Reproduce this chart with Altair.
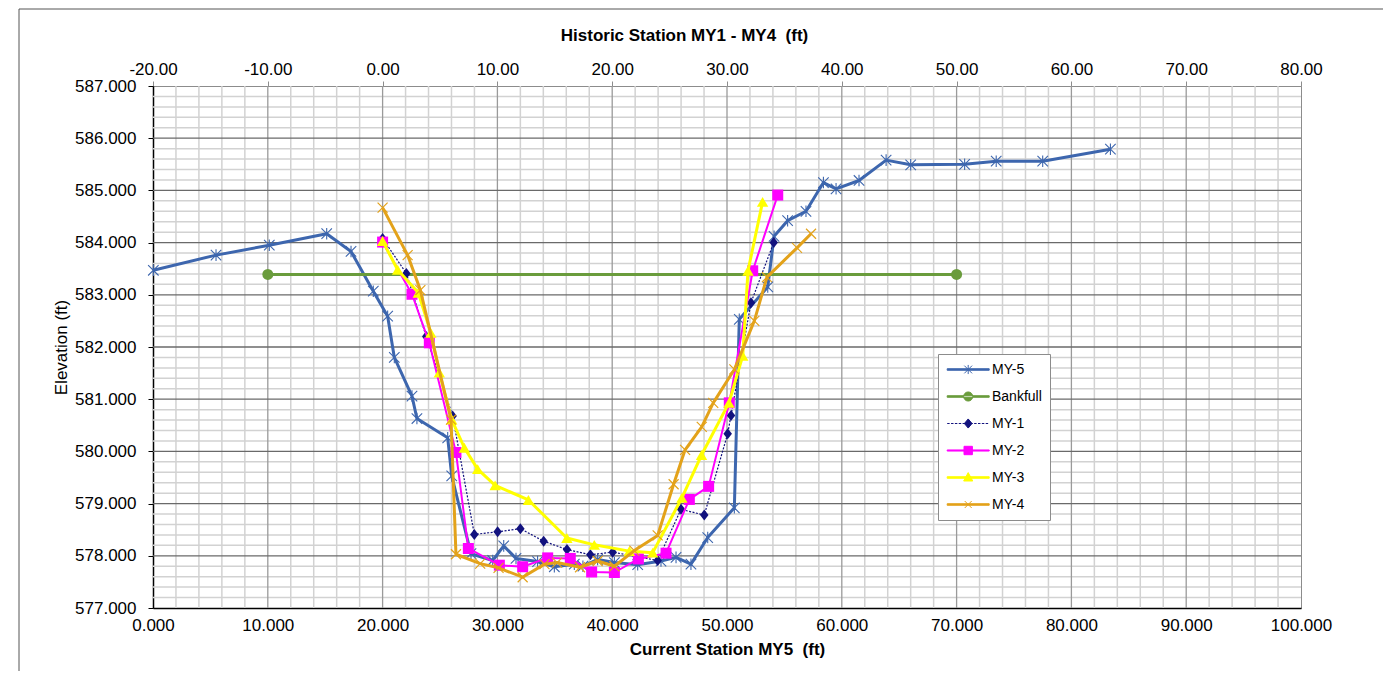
import altair as alt
import pandas as pd

# ---------------- data ----------------
# Current station MY5 (bottom axis)
MY5_X = [0.03, 5.49, 10.13, 15.13, 17.25, 19.19, 20.44, 21.02, 22.56, 22.99,
         25.67, 26.02, 27.7, 29.59, 30.55, 31.62, 33.5, 34.96, 36.7, 37.45,
         38.73, 40.19, 42.22, 44.25, 45.56, 46.86, 48.32, 50.64, 51.07, 53.55,
         54.1, 55.28, 56.88, 58.4, 59.5, 61.5, 63.86, 66.0, 70.7, 73.45,
         77.5, 83.4]
MY5_Y = [583.47, 583.76, 583.95, 584.17, 583.83, 583.07, 582.59, 581.80, 581.06, 580.63,
         580.26, 579.53, 578.04, 577.91, 578.19, 577.95, 577.89, 577.79, 577.84, 577.80,
         577.93, 577.87, 577.83, 577.90, 577.97, 577.84, 578.35, 578.92, 582.53, 583.15,
         584.12, 584.42, 584.60, 585.15, 585.03, 585.19, 585.58, 585.49, 585.50, 585.56,
         585.56, 585.79]

BANK_X = [10.0, 70.0]
BANK_Y = [583.39, 583.39]

# Historic station MY1 - MY4 (top axis)
MY1_X = [0.0, 2.07, 3.8, 6.1, 7.99, 10.02, 12.0, 14.03, 16.06, 18.1,
         20.04, 23.96, 25.99, 28.02, 30.06, 30.35, 32.09, 34.07]
MY1_Y = [584.08, 583.41, 582.2, 580.68, 578.41, 578.46, 578.52, 578.28, 578.12, 578.02,
         578.07, 577.91, 578.89, 578.78, 580.34, 580.69, 582.85, 584.0]

MY2_X = [0.0, 2.56, 4.07, 6.39, 7.47, 10.17, 12.2, 14.38, 16.35, 18.21,
         20.19, 22.28, 24.69, 26.72, 28.4, 30.2, 32.24, 34.42]
MY2_Y = [584.01, 583.01, 582.08, 579.98, 578.14, 577.82, 577.79, 577.96, 577.95, 577.69,
         577.68, 577.94, 578.05, 579.08, 579.33, 580.93, 583.46, 584.91]

MY3_X = [0.0, 1.31, 3.11, 4.2, 4.94, 6.02, 7.12, 8.28, 9.8, 12.7,
         16.05, 18.44, 21.49, 23.53, 26.07, 27.78, 30.17, 31.37, 31.83, 33.1]
MY3_Y = [584.03, 583.48, 583.04, 582.27, 581.51, 580.61, 580.07, 579.66, 579.35, 579.07,
         578.34, 578.21, 578.09, 578.06, 579.11, 579.93, 580.93, 581.83, 583.46, 584.78]

MY4_X = [0.0, 2.18, 3.29, 5.96, 6.39, 8.5, 10.1, 12.2, 14.1, 15.2,
         17.2, 18.73, 20.19, 21.93, 23.96, 25.35, 26.35, 27.8, 28.8, 30.64,
         32.38, 33.48, 36.1, 37.32]
MY4_Y = [584.67, 583.76, 583.09, 580.61, 578.03, 577.85, 577.77, 577.59, 577.84, 577.87,
         577.78, 577.9, 577.8, 578.1, 578.39, 579.37, 580.03, 580.47, 580.93, 581.57,
         582.5, 583.34, 583.9, 584.17]

SERIES = ["MY-5", "Bankfull", "MY-1", "MY-2", "MY-3", "MY-4"]
COLORS = ["#3D66AE", "#6A9C3C", "#12127E", "#FF00FF", "#FFFF00", "#E3A21A"]

X_BOTTOM_TICKS = [0, 10, 20, 30, 40, 50, 60, 70, 80, 90, 100]
X_TOP_TICKS = [-20, -10, 0, 10, 20, 30, 40, 50, 60, 70, 80]
Y_TICKS = [577, 578, 579, 580, 581, 582, 583, 584, 585, 586, 587]
X_MAJOR = [10, 20, 30, 40, 50, 60, 70, 80, 90]
X_MINOR = [v for v in range(2, 100, 2) if v % 10]
Y_MAJOR = [578, 579, 580, 581, 582, 583, 584, 585, 586]
Y_MINOR = [round(577 + k * 0.2, 1) for k in range(1, 50) if k % 5]

FONT = "Liberation Sans"

# ---------------- scales / axes ----------------
Y = alt.Y("y:Q", scale=alt.Scale(domain=[577, 587], nice=False, zero=False),
          axis=alt.Axis(values=Y_TICKS, format=".3f", title="Elevation (ft)", grid=False,
                        domainColor="#000000", domainWidth=1.5, tickColor="#000000",
                        tickSize=5, tickWidth=1, labelFont=FONT, labelFontSize=17,
                        labelColor="#000000", labelPadding=12, titleFont=FONT,
                        titleFontSize=17, titleFontWeight="normal", titleColor="#000000",
                        titlePadding=4))

XB = alt.X("x:Q", scale=alt.Scale(domain=[0, 100], nice=False, zero=False),
           axis=alt.Axis(orient="bottom", values=X_BOTTOM_TICKS, format=".3f",
                         title="Current Station MY5 \u00a0(ft)", grid=False,
                         domainColor="#000000", domainWidth=1.5, ticks=False,
                         labelFlush=False, labelFont=FONT, labelFontSize=17,
                         labelColor="#000000", labelPadding=9, titleFont=FONT,
                         titleFontSize=17, titleFontWeight="bold", titleColor="#000000",
                         titlePadding=8))

XT = alt.X("x:Q", scale=alt.Scale(domain=[-20, 80], nice=False, zero=False),
           axis=alt.Axis(orient="top", values=X_TOP_TICKS, format=".2f",
                         labelExpr="replace(format(datum.value, '.2f'), '\u2212', '-')",
                         title="Historic Station MY1 - MY4 \u00a0(ft)", grid=False,
                         domainColor="#8c8c8c", tickColor="#8c8c8c", tickSize=5,
                         labelFlush=False, labelFont=FONT, labelFontSize=17,
                         labelColor="#000000", labelPadding=3, titleFont=FONT,
                         titleFontSize=17, titleFontWeight="bold", titleColor="#000000",
                         titlePadding=16, titleX=531, titleAlign="center"))


def frame(xs, ys):
    return pd.DataFrame({"x": xs, "y": ys, "i": list(range(len(xs)))})


def series(xs, ys, X, color, width, shape, size, filled, dash=None, mstroke=1.0):
    base = alt.Chart(frame(xs, ys))
    kw = dict(color=color, strokeWidth=width, strokeJoin="round")
    if dash:
        kw["strokeDash"] = dash
    line = base.mark_line(**kw).encode(x=X, y=Y, order="i:Q")
    pts = base.mark_point(shape=shape, size=size, filled=filled, color=color,
                          opacity=1, strokeWidth=mstroke).encode(x=X, y=Y)
    return [line, pts]


# ---------------- grid ----------------
grid = [
    alt.Chart(pd.DataFrame({"x": X_MINOR})).mark_rule(color="#D2D2D2", strokeWidth=1.5).encode(x=XB),
    alt.Chart(pd.DataFrame({"y": Y_MINOR})).mark_rule(color="#D2D2D2", strokeWidth=1.5).encode(y=Y),
    alt.Chart(pd.DataFrame({"x": X_MAJOR})).mark_rule(color="#9A9A9A", strokeWidth=1.3).encode(x=XB),
    alt.Chart(pd.DataFrame({"y": Y_MAJOR})).mark_rule(color="#6A6A6A", strokeWidth=1.3).encode(y=Y),
]

one = pd.DataFrame({"k": [0]})
border = [
    alt.Chart(one).mark_rule(color="#555555", strokeWidth=1).encode(
        x=alt.value(-134), x2=alt.value(1230), y=alt.value(-77)),
    alt.Chart(one).mark_rule(color="#555555", strokeWidth=1).encode(
        x=alt.value(-134), y=alt.value(-77), y2=alt.value(585)),
]

STAR = "M-1,-1L1,1M-1,1L1,-1M0,-1.1L0,1.1"
XMARK = "M-1,-1L1,1M-1,1L1,-1"
DIAMOND = "M0,-1.1L0.85,0L0,1.1L-0.85,0Z"

bottom_layers = grid + border
bottom_layers += series(MY5_X, MY5_Y, XB, COLORS[0], 3, STAR, 110, False, mstroke=1.1)
bottom_layers += series(BANK_X, BANK_Y, XB, COLORS[1], 3, "circle", 120, True)
bottom_group = alt.layer(*bottom_layers)

top_layers = []
top_layers += series(MY1_X, MY1_Y, XT, COLORS[2], 1.2, DIAMOND, 100, True, dash=[2, 1.5])
top_layers += series(MY2_X, MY2_Y, XT, COLORS[3], 2, "square", 121, True)
top_layers += series(MY3_X, MY3_Y, XT, COLORS[4], 3, "triangle-up", 130, True)
top_layers += series(MY4_X, MY4_Y, XT, COLORS[5], 3, XMARK, 100, False, mstroke=1.2)

# ---------------- legend (line + marker symbols) ----------------
LINE = "M-0.9,-0.11H5.1V0.11H-0.9Z"
dashes = ""
p = -0.9
while p < 5.1:
    dashes += "M%.2f,0H%.2f" % (p, min(p + 0.35, 5.1))
    p += 0.55
LEGEND_PATHS = [
    LINE + "M1.55,-0.55L2.65,0.55M1.55,0.55L2.65,-0.55M2.1,-0.65V0.65",
    LINE + "M1.45,0A0.65,0.65 0 1,0 2.75,0A0.65,0.65 0 1,0 1.45,0Z",
    dashes + "M2.1,-0.65L2.65,0L2.1,0.65L1.55,0Z",
    "M-0.9,-0.08H5.1V0.08H-0.9Z" + "M1.5,-0.6H2.7V0.6H1.5Z",
    LINE + "M2.1,-0.7L2.75,0.5H1.45Z",
    LINE + "M1.6,-0.5L2.6,0.5M1.6,0.5L2.6,-0.5",
]

LEG = alt.Legend(orient="none", legendX=785, legendY=268, title=None, padding=8,
                 fillColor="#FFFFFF", strokeColor="#8c8c8c",
                 labelFont=FONT, labelFontSize=14, labelColor="#000000",
                 symbolSize=196, symbolStrokeWidth=1, symbolOpacity=1,
                 symbolFillColor="#000000", symbolStrokeColor="#000000",
                 labelOffset=31, rowPadding=12, labelLimit=300)

legend_layer = alt.Chart(pd.DataFrame({"series": SERIES})).mark_point(
    filled=True, opacity=0).encode(
    fill=alt.Fill("series:N", scale=alt.Scale(domain=SERIES, range=COLORS), legend=LEG),
    stroke=alt.Stroke("series:N", scale=alt.Scale(domain=SERIES, range=COLORS), legend=LEG),
    shape=alt.Shape("series:N", scale=alt.Scale(domain=SERIES, range=LEGEND_PATHS), legend=LEG),
)
top_layers.append(legend_layer)
top_group = alt.layer(*top_layers)

chart = alt.layer(bottom_group, top_group).resolve_scale(x="independent").properties(
    width=1148, height=522,
    padding={"left": 18, "top": 8, "right": 0, "bottom": 0},
    background="#FFFFFF",
).configure_view(stroke="#8c8c8c", strokeWidth=1)

chart.save("out.html", embed_options={"renderer": "svg", "actions": False})
